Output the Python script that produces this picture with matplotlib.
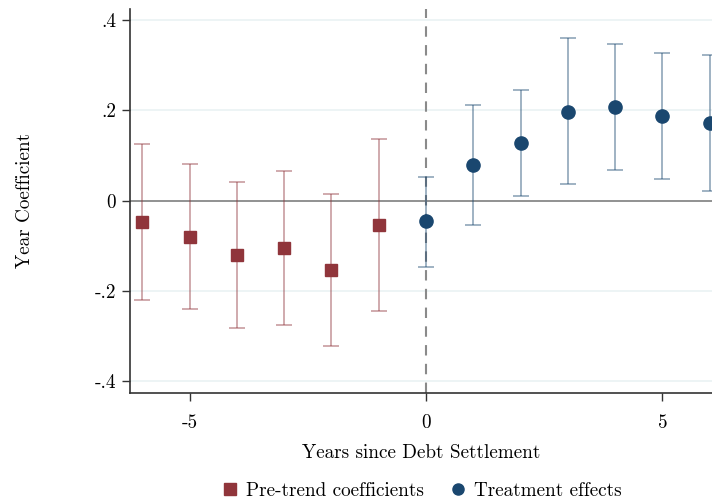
import numpy as np
import matplotlib.pyplot as plt
from matplotlib.lines import Line2D

plt.rcParams['font.family'] = 'cmr10'
plt.rcParams['axes.formatter.use_mathtext'] = True

# event-study estimates
pre_years = [-6, -5, -4, -3, -2, -1]
pre_coef = [-0.048, -0.080, -0.120, -0.105, -0.153, -0.054]
pre_lo = [-0.221, -0.240, -0.283, -0.275, -0.322, -0.244]
pre_hi = [0.125, 0.081, 0.041, 0.066, 0.015, 0.137]

post_years = [0, 1, 2, 3, 4, 5, 6]
post_coef = [-0.046, 0.079, 0.127, 0.197, 0.207, 0.187, 0.172]
post_lo = [-0.147, -0.054, 0.011, 0.036, 0.068, 0.048, 0.021]
post_hi = [0.053, 0.211, 0.245, 0.360, 0.347, 0.326, 0.323]

yticks = [-0.4, -0.2, 0, 0.2, 0.4]
ytick_labels = ['-.4', '-.2', '0', '.2', '.4']
xticks = [-5, 0, 5]
xtick_labels = ['-5', '0', '5']

RED = '#90353B'
NAVY = '#1A476F'
FS = 13.8

fig = plt.figure(figsize=(7.12, 5.04), dpi=100)
ax = fig.add_axes([130/712, 111/504, 1 - 130/712, 384/504])

for y in yticks:
    ax.axhline(y, color='#EAF2F3', lw=1.2, zorder=0)
ax.axhline(0, color='#8A8A8A', lw=1.3, zorder=1)
ax.axvline(0, color='#8A8A8A', lw=1.5, ls=(0, (5, 4)), zorder=1)

def draw(xs, c, lo, hi, color, marker):
    c = np.array(c)
    err = [c - np.array(lo), np.array(hi) - c]
    ax.errorbar(xs, c, yerr=err, fmt='none', ecolor=color, alpha=0.42,
                elinewidth=1.4, capsize=6, capthick=1.4, zorder=2)
    ax.plot(xs, c, ls='none', marker=marker, color=color, markersize=9.5 if marker == 'o' else 8.8,
            zorder=3, clip_on=False)

draw(pre_years, pre_coef, pre_lo, pre_hi, RED, 's')
draw(post_years, post_coef, post_lo, post_hi, NAVY, 'o')

ax.set_xlim(-6.26, 6.05)
ax.set_ylim(-0.426, 0.424)
ax.set_yticks(yticks)
ax.set_yticklabels(ytick_labels)
ax.set_xticks(xticks)
ax.set_xticklabels(xtick_labels)
ax.tick_params(axis='both', labelsize=FS, length=6, width=1, color='#333333', pad=9)
ax.tick_params(axis='y', pad=4)
for s in ['top', 'right']:
    ax.spines[s].set_visible(False)
for s in ['left', 'bottom']:
    ax.spines[s].set_color('#333333')
    ax.spines[s].set_linewidth(1.2)

ax.set_xlabel('Years since Debt Settlement', fontsize=FS, labelpad=9)
fig.text(25/712, 1 - 200/504, 'Year Coefficient', rotation=90, fontsize=FS,
         ha='center', va='center')

handles = [
    Line2D([], [], ls='none', marker='s', color=RED, markersize=8),
    Line2D([], [], ls='none', marker='o', color=NAVY, markersize=8),
]
fig.legend(handles, ['Pre-trend coefficients', 'Treatment effects'],
           loc='center', bbox_to_anchor=(0.59, 1 - 491/504), ncol=2, frameon=False,
           fontsize=FS, handletextpad=0.2, columnspacing=1.2, handlelength=1.2)

fig.savefig('out.png', dpi=100)
